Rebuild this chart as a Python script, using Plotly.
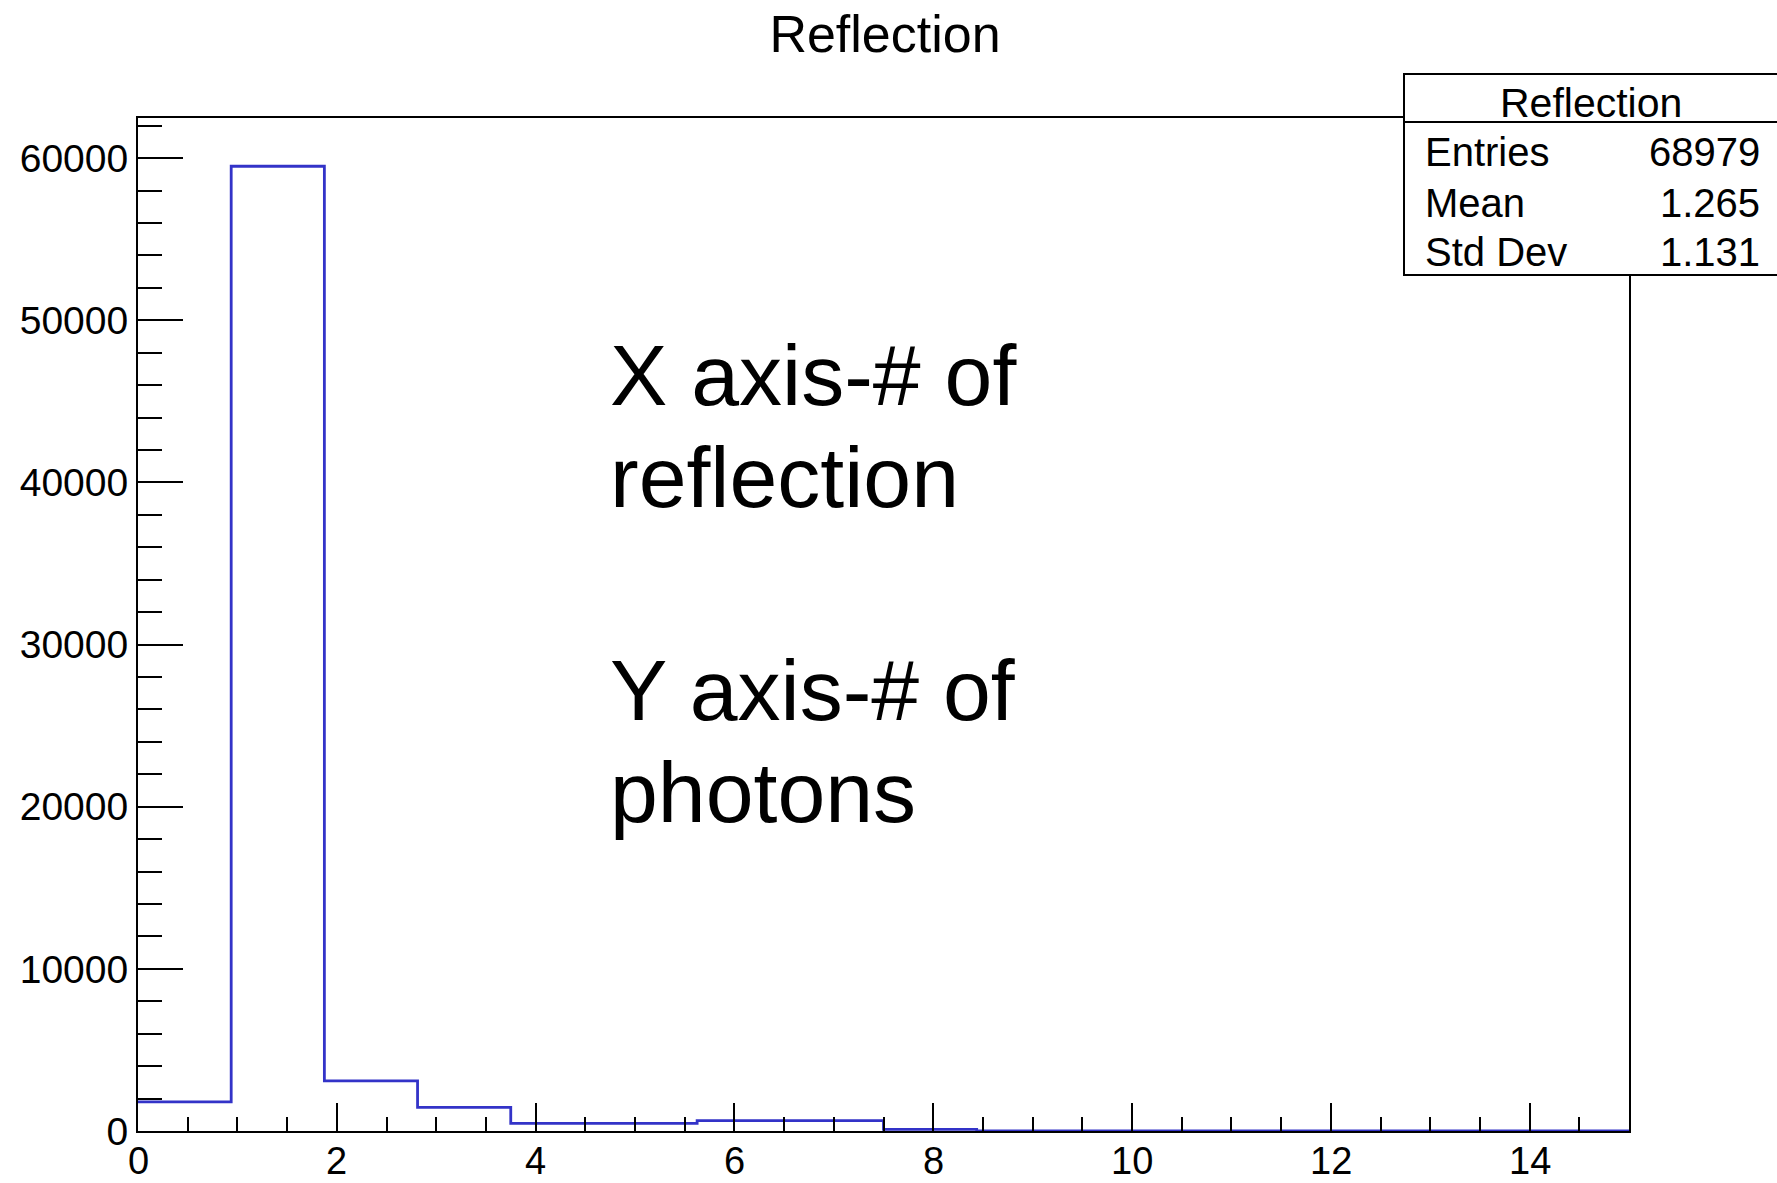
import plotly.graph_objects as go

# ---------------- data ----------------
n_bins = 16
x_min, x_max = 0.0, 15.0
bin_counts = [1800, 59500, 3090, 1460, 475, 475, 636, 636, 100, 0, 0, 0, 0, 0, 0, 0]
x_tick_vals = [0, 2, 4, 6, 8, 10, 12, 14]
x_tick_text = ["0", "2", "4", "6", "8", "10", "12", "14"]
hist_title = "Reflection"
stat_labels = ["Entries", "Mean", "Std Dev"]
stat_values = ["68979", "1.265", "1.131"]
note_lines = ["X axis-# of", "reflection", "Y axis-# of", "photons"]

bw = (x_max - x_min) / n_bins
edges = [x_min + i * bw for i in range(n_bins + 1)]
xs = edges[:-1] + [edges[-1]]
ys = bin_counts + [bin_counts[-1]]
y_top = 1.05 * max(bin_counts)

# ---------------- layout geometry (pixels) ----------------
W, H = 1777, 1183
L, R, T, B = 138, 1629, 118, 1131
def px(x):
    return (x - L) / (R - L)
def py(y):
    return (B - y) / (B - T)

FONT = "Liberation Sans, Arial, Helvetica, sans-serif"
LINE_BLUE = "#3333c8"

fig = go.Figure()
fig.add_trace(go.Scatter(
    x=xs, y=ys, mode="lines", line=dict(shape="hv", color=LINE_BLUE, width=2.8),
    hoverinfo="x+y", showlegend=False, cliponaxis=True,
))

axis_common = dict(
    showline=True, linecolor="black", linewidth=2, mirror=True,
    ticks="inside", tickcolor="black", tickwidth=2,
    showgrid=False, zeroline=False,
    tickfont=dict(family=FONT, size=39, color="black"),
)

fig.update_xaxes(
    range=[x_min, x_max], tickmode="array", tickvals=x_tick_vals, ticklen=28,
    showticklabels=False,
    minor=dict(tickmode="linear", tick0=0, dtick=0.5, ticklen=14, tickwidth=2,
               tickcolor="black", ticks="inside", showgrid=False),
    **axis_common,
)
fig.update_yaxes(
    range=[0, y_top], tick0=0, dtick=10000, ticklen=45, tickformat="d",
    ticklabelstandoff=0,
    minor=dict(dtick=2000, ticklen=24, tickwidth=2, tickcolor="black", ticks="inside", showgrid=False),
    **axis_common,
)

annotations = []
# x tick labels placed on the x scale
for v, t in zip(x_tick_vals, x_tick_text):
    annotations.append(dict(
        xref="x", yref="paper", x=v, y=py(1161), xanchor="center", yanchor="middle",
        text=t, showarrow=False, font=dict(family=FONT, size=38, color="black"),
    ))

# big note text, one annotation per line
note_mid_y = [375, 477, 690, 792]
for txt, yy in zip(note_lines, note_mid_y):
    annotations.append(dict(
        xref="paper", yref="paper", x=px(608), y=py(yy), xanchor="left", yanchor="middle",
        text=txt, showarrow=False, font=dict(family=FONT, size=86, color="black"),
    ))

# stats box
box_x0, box_x1, box_y0, box_y1, box_div = 1404, 1782, 74, 275, 122
shapes = [
    dict(type="rect", xref="paper", yref="paper", x0=px(box_x0), x1=px(box_x1),
         y0=py(box_y1), y1=py(box_y0), line=dict(color="black", width=2),
         fillcolor="white", layer="above"),
    dict(type="line", xref="paper", yref="paper", x0=px(box_x0), x1=px(box_x1),
         y0=py(box_div), y1=py(box_div), line=dict(color="black", width=2), layer="above"),
]
annotations.append(dict(
    xref="paper", yref="paper", x=px(1591), y=py(103), xanchor="center", yanchor="middle",
    text=hist_title, showarrow=False, font=dict(family=FONT, size=41, color="black"),
))
row_mid = [152, 203, 252]
for lab, val, yy in zip(stat_labels, stat_values, row_mid):
    annotations.append(dict(
        xref="paper", yref="paper", x=px(1423), y=py(yy), xanchor="left", yanchor="middle",
        text=lab, showarrow=False, font=dict(family=FONT, size=40, color="black"),
    ))
    annotations.append(dict(
        xref="paper", yref="paper", x=px(1762), y=py(yy), xanchor="right", yanchor="middle",
        text=val, showarrow=False, font=dict(family=FONT, size=40, color="black"),
    ))

fig.update_layout(
    width=W, height=H,
    margin=dict(l=L, r=W - R, t=T, b=H - B, autoexpand=False),
    paper_bgcolor="white", plot_bgcolor="white",
    title=dict(text=hist_title, xref="container", yref="container",
               x=885 / W, y=1 - 34 / H, xanchor="center", yanchor="middle",
               font=dict(family=FONT, size=52, color="black")),
    shapes=shapes, annotations=annotations,
    showlegend=False,
)

fig.write_html(
    "out.html",
    config={"displayModeBar": False},
    post_script="document.body.style.margin='0';document.body.style.overflow='hidden';",
)
